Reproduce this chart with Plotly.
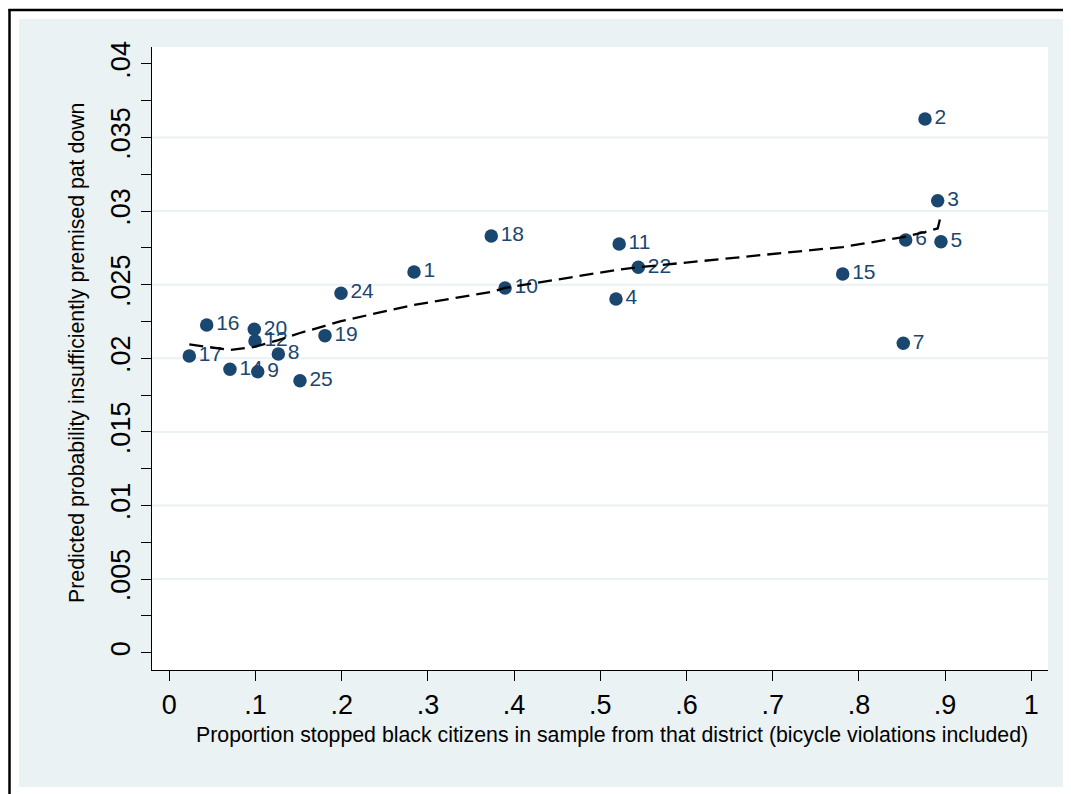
import plotly.graph_objects as go

# ---- data ----
district = ["2", "3", "6", "5", "15", "7", "11", "22", "4", "18", "10", "1", "24",
            "19", "16", "20", "12", "17", "8", "14", "25", "9"]
prop_black = [0.8767, 0.8914, 0.8543, 0.8952, 0.7812, 0.8515, 0.5219, 0.5441, 0.5182,
              0.3735, 0.3895, 0.2839, 0.1992, 0.1806, 0.0434, 0.0986, 0.0994, 0.0232,
              0.1265, 0.0704, 0.1516, 0.1026]
pred_prob = [0.03626, 0.03071, 0.02804, 0.02792, 0.02573, 0.02102, 0.02776, 0.02618,
             0.02403, 0.02831, 0.02477, 0.02586, 0.02442, 0.02154, 0.02226, 0.02197,
             0.02118, 0.02016, 0.02029, 0.01925, 0.01848, 0.01909]

# smoothed (lowess) line
lowess_x = [0.0232, 0.0434, 0.0704, 0.0986, 0.0994, 0.1026, 0.1265, 0.1516, 0.1806,
            0.1992, 0.2839, 0.3735, 0.3895, 0.5182, 0.5219, 0.5441, 0.7812, 0.8515,
            0.8543, 0.8767, 0.8914, 0.8952]
lowess_y = [0.02095, 0.02077, 0.02056, 0.02077, 0.02079, 0.02084, 0.02124, 0.02172,
            0.02220, 0.02253, 0.02362, 0.02451, 0.02478, 0.02600, 0.02603, 0.02618,
            0.02756, 0.02824, 0.02827, 0.02858, 0.02882, 0.02973]

x_ticks = [0, 0.1, 0.2, 0.3, 0.4, 0.5, 0.6, 0.7, 0.8, 0.9, 1]
x_tick_text = ["0", ".1", ".2", ".3", ".4", ".5", ".6", ".7", ".8", ".9", "1"]
y_ticks = [0, 0.005, 0.01, 0.015, 0.02, 0.025, 0.03, 0.035, 0.04]
y_tick_text = ["0", ".005", ".01", ".015", ".02", ".025", ".03", ".035", ".04"]
y_grid = [0.005, 0.01, 0.015, 0.02, 0.025, 0.03, 0.035]

x_title = "Proportion stopped black citizens in sample from that district (bicycle violations included)"
y_title = "Predicted probability insufficiently premised pat down"

# ---- styling ----
NAVY = "#1A476F"
BG = "#EAF2F3"
FONT = "Liberation Sans, Arial, sans-serif"
OFF = 8                      # page body margin of the html page
W, H = 1071 - OFF, 794 - OFF
ML, MR, MT, MB = 144, 23, 39, 124
PW, PH = W - ML - MR, H - MT - MB
XPIX, YPIX = 862.0, 14720.0  # pixels per data unit


def px(xr):
    """reference-screen x pixel -> paper x"""
    return (xr - OFF - ML) / PW


def py(yr):
    """reference-screen y pixel -> paper y"""
    return (H - MB - (yr - OFF)) / PH


fig = go.Figure()

idx_main = [i for i, d in enumerate(district) if d != "9"]
idx_top = [i for i, d in enumerate(district) if d == "9"]

for idx in (idx_main, idx_top):
    fig.add_trace(go.Scatter(
        x=[prop_black[i] for i in idx],
        y=[pred_prob[i] for i in idx],
        text=[district[i] for i in idx],
        mode="markers+text",
        textposition="middle right",
        marker=dict(color=NAVY, size=13.5, line=dict(width=0)),
        textfont=dict(color=NAVY, size=21, family=FONT),
        showlegend=False,
        cliponaxis=False,
    ))

fig.add_trace(go.Scatter(
    x=lowess_x, y=lowess_y, mode="lines",
    line=dict(color="black", width=2.3, dash="14px,7px"),
    showlegend=False,
))

shapes = []
for g in y_grid:
    shapes.append(dict(type="line", xref="paper", yref="y", x0=0, x1=1, y0=g, y1=g,
                       line=dict(color=BG, width=2), layer="below"))
shapes += [
    dict(type="rect", xref="paper", yref="paper", x0=px(0), x1=px(19), y0=py(800), y1=py(0),
         fillcolor="white", line=dict(width=0), layer="above"),
    dict(type="rect", xref="paper", yref="paper", x0=px(0), x1=px(1080), y0=py(19), y1=py(0),
         fillcolor="white", line=dict(width=0), layer="above"),
    dict(type="rect", xref="paper", yref="paper", x0=px(0), x1=px(1080), y0=py(800), y1=py(787),
         fillcolor="white", line=dict(width=0), layer="above"),
    dict(type="line", xref="paper", yref="paper", x0=px(9.5), x1=px(9.5), y0=py(800), y1=py(9),
         line=dict(color="black", width=2.5), layer="above"),
    dict(type="line", xref="paper", yref="paper", x0=px(8.5), x1=px(1080), y0=py(10), y1=py(10),
         line=dict(color="black", width=2.5), layer="above"),
]

fig.update_layout(
    width=W, height=H,
    margin=dict(l=ML, r=MR, t=MT, b=MB, pad=0),
    paper_bgcolor=BG, plot_bgcolor="white",
    font=dict(family=FONT, color="black"),
    shapes=shapes,
    annotations=[
        dict(text=x_title, xref="paper", yref="paper", x=px(611.5), y=py(735),
             xanchor="center", yanchor="middle", showarrow=False,
             font=dict(size=21.3, family=FONT, color="black")),
        dict(text=y_title, xref="paper", yref="paper", x=px(77), y=py(353),
             xanchor="center", yanchor="middle", showarrow=False, textangle=-90,
             font=dict(size=21.3, family=FONT, color="black")),
    ],
)

x0 = -(169.3 - OFF - ML - OFF) / XPIX
x0 = -(169.3 - (ML + OFF)) / XPIX
y0 = -((MT + OFF + PH) - 652.7) / YPIX

fig.update_xaxes(
    range=[x0, x0 + PW / XPIX],
    tickmode="array", tickvals=x_ticks, ticktext=x_tick_text,
    ticks="outside", ticklen=10, tickwidth=1, tickcolor="black",
    showline=True, linecolor="black", linewidth=1.3,
    showgrid=False, zeroline=False,
    tickfont=dict(size=27, family=FONT, color="black"),
)
fig.update_yaxes(
    range=[y0, y0 + PH / YPIX],
    tickmode="array", tickvals=y_ticks, ticktext=y_tick_text, tickangle=-90,
    ticks="outside", ticklen=10, tickwidth=1, tickcolor="black",
    minor=dict(dtick=0.0025, tick0=0, ticks="outside", ticklen=10, tickwidth=1,
               tickcolor="black", showgrid=False),
    showline=True, linecolor="black", linewidth=1.3,
    showgrid=False, zeroline=False,
    tickfont=dict(size=27, family=FONT, color="black"),
)

fig.write_html("out.html")
